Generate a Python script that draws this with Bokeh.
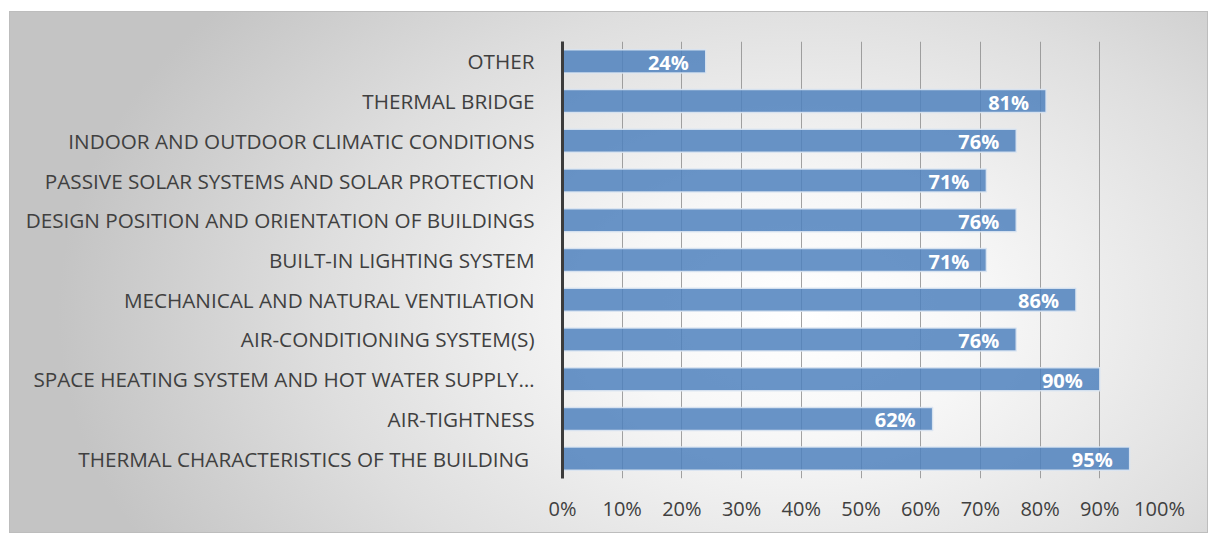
from bokeh.plotting import figure
from bokeh.models import ColumnDataSource, FactorRange, Range1d, NumeralTickFormatter, FixedTicker
from bokeh.core.properties import value
from bokeh.embed import file_html
from bokeh.resources import INLINE

categories = [
    "THERMAL CHARACTERISTICS OF THE BUILDING ",
    "AIR-TIGHTNESS",
    "SPACE HEATING SYSTEM AND HOT WATER SUPPLY…",
    "AIR-CONDITIONING SYSTEM(S)",
    "MECHANICAL AND NATURAL VENTILATION",
    "BUILT-IN LIGHTING SYSTEM",
    "DESIGN POSITION AND ORIENTATION OF BUILDINGS",
    "PASSIVE SOLAR SYSTEMS AND SOLAR PROTECTION",
    "INDOOR AND OUTDOOR CLIMATIC CONDITIONS",
    "THERMAL BRIDGE",
    "OTHER",
]
values = [0.95, 0.62, 0.90, 0.76, 0.86, 0.71, 0.76, 0.71, 0.76, 0.81, 0.24]
labels = [f"{round(v * 100)}%" for v in values]
x_ticks = [0, 0.1, 0.2, 0.3, 0.4, 0.5, 0.6, 0.7, 0.8, 0.9, 1.0]

src = ColumnDataSource(dict(cat=categories, val=values, lab=labels))

FONT = "Open Sans"
TXT = "#404040"

p = figure(
    width=1199, height=522,
    y_range=FactorRange(*categories, range_padding=0),
    x_range=Range1d(0, 1.0),
    output_backend="svg", toolbar_location=None,
    min_border_left=552, min_border_right=50, min_border_top=29, min_border_bottom=56,
    styles={
        "background": "radial-gradient(ellipse 62% 95% at 66% 58%, #ffffff 0%, #f7f7f7 25%, #dedede 65%, #c4c4c4 100%)",
        "border": "1px solid #bdbdbd",
        "box-sizing": "border-box",
        "margin-left": "9px",
        "margin-top": "11px",
    },
)
p.background_fill_color = None
p.border_fill_color = None
p.outline_line_color = None

p.hbar(y="cat", right="val", left=0, height=0.58, source=src,
       fill_color="#4f81bd", fill_alpha=0.85,
       line_color="#dce6f2", line_alpha=0.9, line_width=1.5)

p.text(x="val", y="cat", text="lab", source=src,
       text_font=value(FONT), text_font_style="bold", text_font_size="20px",
       text_color="white", text_align="right", text_baseline="middle",
       x_offset=-17, y_offset=1)

p.xaxis.ticker = FixedTicker(ticks=x_ticks)
p.xaxis.formatter = NumeralTickFormatter(format="0%")
p.xaxis.axis_line_color = None
p.xaxis.major_tick_line_color = None
p.xaxis.minor_tick_line_color = None
p.xaxis.major_label_text_font = FONT
p.xaxis.major_label_text_font_size = "20px"
p.xaxis.major_label_text_color = TXT
p.xaxis.major_label_standoff = 10

p.yaxis.axis_line_color = "#3c3c3c"
p.yaxis.axis_line_width = 3
p.yaxis.major_tick_line_color = None
p.yaxis.minor_tick_line_color = None
p.yaxis.major_label_text_font = FONT
p.yaxis.major_label_text_font_size = "20.7px"
p.yaxis.major_label_text_color = TXT
p.yaxis.major_label_standoff = 22

p.xgrid.grid_line_color = "#8c8c8c"
p.xgrid.grid_line_alpha = 0.8
p.xgrid.grid_line_width = 1
p.ygrid.grid_line_color = None

open("out.html", "w").write(file_html(p, INLINE))
